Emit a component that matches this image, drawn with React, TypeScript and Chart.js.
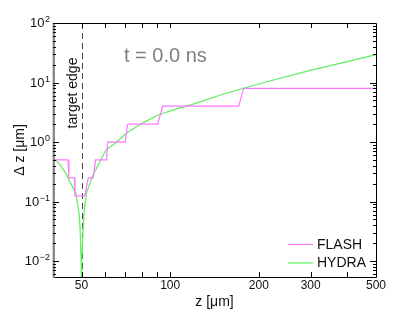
import React, { useEffect, useRef } from 'react';
import { Chart, registerables } from 'chart.js';

Chart.register(...registerables);

// ---- data ----
const FLASH_Z = [39.8, 40.2, 45.0, 45.3, 47.3, 47.5, 51.3, 52.7, 54.8, 55.8, 60.8, 61.3, 70.3, 71.7, 90.7, 94.3, 170.9, 177.7, 500];
const FLASH_DZ = [1, 0.5, 0.5, 0.25, 0.25, 0.125, 0.125, 0.25, 0.25, 0.5, 0.5, 1, 1, 2, 2, 4, 4, 8, 8];

const HYDRA_Z = [40, 42, 44.2, 46, 47.8, 49, 49.4, 49.85, 50, 50.15, 50.67, 51.2, 52, 54.5, 56, 60.6, 65.5, 71, 80.7, 92, 105, 119, 150, 177, 236, 306, 400, 500];
const HYDRA_DZ = [0.54, 0.43, 0.3, 0.2, 0.14, 0.065, 0.039, 0.01, 0.001, 0.01, 0.039, 0.08, 0.14, 0.27, 0.35, 0.74, 0.98, 1.4, 2.1, 2.9, 3.6, 4.3, 6.3, 8.0, 11.8, 16.5, 22.5, 29.5];

const X_MIN = 40;
const X_MAX = 500;
const Y_MIN = 0.0054;
const Y_MAX = 100;

const X_TICK_LABELS = [50, 100, 200, 300, 500];
const X_TICKS = [50, 60, 70, 80, 90, 100, 200, 300, 400];
const Y_DECADES = [-2, -1, 0, 1, 2];
const Y_MINOR_MULTS = [2, 3, 4, 5, 6, 7, 8, 9];

const TARGET_EDGE_Z = 50;
const TARGET_EDGE_LABEL = 'target edge';
const TIME_LABEL = 't = 0.0 ns';
const X_TITLE = 'z [\u03bcm]';
const Y_TITLE = '\u0394 z [\u03bcm]';
const SERIES_NAMES = ['FLASH', 'HYDRA'];
const SERIES_COLORS = ['#ff77ff', '#5cee5c'];

const FONT = '"Liberation Sans", Arial, Helvetica, sans-serif';

const decorPlugin = {
  id: 'decor',
  beforeDatasetsDraw(chart: any) {
    const { ctx, chartArea, scales } = chart;
    const x = Math.round(scales.x.getPixelForValue(TARGET_EDGE_Z)) + 0.5;
    ctx.save();
    ctx.strokeStyle = '#444';
    ctx.lineWidth = 1;
    ctx.setLineDash([6, 4]);
    ctx.beginPath();
    ctx.moveTo(x, chartArea.top);
    ctx.lineTo(x, chartArea.bottom);
    ctx.stroke();
    ctx.restore();
  },
  afterDraw(chart: any) {
    const { ctx, chartArea: a, scales } = chart;
    const xs = scales.x;
    const ys = scales.y;
    ctx.save();
    // borders
    ctx.lineWidth = 1;
    ctx.strokeStyle = '#000';
    ctx.beginPath();
    ctx.moveTo(a.left, a.top + 0.5);
    ctx.lineTo(a.right + 0.5, a.top + 0.5);
    ctx.lineTo(a.right + 0.5, a.bottom + 0.5);
    ctx.lineTo(a.left, a.bottom + 0.5);
    ctx.stroke();
    ctx.strokeStyle = '#8a8a8a';
    ctx.lineWidth = 2.4;
    ctx.beginPath();
    ctx.moveTo(a.left + 0.8, a.top);
    ctx.lineTo(a.left + 0.8, a.bottom + 1);
    ctx.stroke();

    // x ticks (bottom and top, inward)
    ctx.strokeStyle = '#000';
    ctx.lineWidth = 1;
    ctx.beginPath();
    for (const v of X_TICKS) {
      const px = Math.round(xs.getPixelForValue(v)) + 0.5;
      ctx.moveTo(px, a.bottom);
      ctx.lineTo(px, a.bottom - 5);
      ctx.moveTo(px, a.top);
      ctx.lineTo(px, a.top + 5);
    }
    // y ticks (left and right)
    for (const k of Y_DECADES) {
      const base = Math.pow(10, k);
      const py = Math.round(ys.getPixelForValue(base)) + 0.5;
      if (base >= Y_MIN && base <= Y_MAX) {
        ctx.moveTo(a.left, py);
        ctx.lineTo(a.left + 6, py);
        ctx.moveTo(a.right, py);
        ctx.lineTo(a.right - 6, py);
      }
    }
    for (let k = -3; k <= 2; k++) {
      for (const m of Y_MINOR_MULTS) {
        const v = m * Math.pow(10, k);
        if (v < Y_MIN || v > Y_MAX) continue;
        const py = Math.round(ys.getPixelForValue(v)) + 0.5;
        ctx.moveTo(a.left, py);
        ctx.lineTo(a.left + 3, py);
        ctx.moveTo(a.right, py);
        ctx.lineTo(a.right - 3, py);
      }
    }
    ctx.stroke();

    // x tick labels
    ctx.fillStyle = '#111';
    ctx.font = `12px ${FONT}`;
    ctx.textAlign = 'center';
    ctx.textBaseline = 'middle';
    for (const v of X_TICK_LABELS) {
      ctx.fillText(String(v), xs.getPixelForValue(v), a.bottom + 9);
    }
    // y tick labels 10^k
    for (const k of Y_DECADES) {
      const py = ys.getPixelForValue(Math.pow(10, k));
      const expStr = k < 0 ? '\u2212' + Math.abs(k) : String(k);
      ctx.font = `9px ${FONT}`;
      ctx.textAlign = 'right';
      ctx.textBaseline = 'alphabetic';
      const ew = ctx.measureText(expStr).width;
      ctx.fillText(expStr, a.left - 3, py - 1);
      ctx.font = `13px ${FONT}`;
      ctx.textBaseline = 'middle';
      ctx.fillText('10', a.left - 3 - ew - 0.5, py + 0.5);
    }

    // axis titles
    ctx.font = `14px ${FONT}`;
    ctx.textAlign = 'center';
    ctx.textBaseline = 'middle';
    ctx.fillText(X_TITLE, (a.left + a.right) / 2, a.bottom + 25);
    ctx.save();
    ctx.translate(20, (a.top + a.bottom) / 2);
    ctx.rotate(-Math.PI / 2);
    ctx.fillText(Y_TITLE, 0, 0);
    ctx.restore();

    // time annotation
    ctx.font = `20px ${FONT}`;
    ctx.fillStyle = '#808080';
    ctx.textAlign = 'left';
    ctx.textBaseline = 'alphabetic';
    ctx.fillText(TIME_LABEL, 124, 62);

    // target edge label
    ctx.fillStyle = '#111';
    ctx.font = `14px ${FONT}`;
    ctx.save();
    ctx.translate(xs.getPixelForValue(TARGET_EDGE_Z) - 4.5, 93);
    ctx.rotate(-Math.PI / 2);
    ctx.textAlign = 'center';
    ctx.fillText(TARGET_EDGE_LABEL, 0, 0);
    ctx.restore();

    // legend
    const legendY = [244.5, 263];
    SERIES_NAMES.forEach((name, i) => {
      ctx.strokeStyle = SERIES_COLORS[i];
      ctx.lineWidth = 1.2;
      ctx.beginPath();
      ctx.moveTo(288, legendY[i]);
      ctx.lineTo(313, legendY[i]);
      ctx.stroke();
      ctx.fillStyle = '#111';
      ctx.font = `14px ${FONT}`;
      ctx.textAlign = 'left';
      ctx.textBaseline = 'middle';
      ctx.fillText(name, 317, legendY[i] + 0.5);
    });
    ctx.restore();
  },
};

export default function App() {
  const ref = useRef<HTMLCanvasElement | null>(null);
  useEffect(() => {
    if (!ref.current) return;
    const chart = new Chart(ref.current, {
      type: 'line',
      data: {
        datasets: [
          {
            label: SERIES_NAMES[0],
            data: FLASH_Z.map((z, i) => ({ x: z, y: FLASH_DZ[i] })),
            borderColor: SERIES_COLORS[0],
            borderWidth: 1.2,
            pointRadius: 0,
            tension: 0,
          },
          {
            label: SERIES_NAMES[1],
            data: HYDRA_Z.map((z, i) => ({ x: z, y: HYDRA_DZ[i] })),
            borderColor: SERIES_COLORS[1],
            borderWidth: 1.2,
            pointRadius: 0,
            tension: 0,
          },
        ],
      },
      options: {
        responsive: false,
        maintainAspectRatio: false,
        devicePixelRatio: 1,
        animation: false,
        layout: { padding: { left: 53, top: 23, right: 39, bottom: 35 } },
        scales: {
          x: { type: 'logarithmic', min: X_MIN, max: X_MAX, display: false },
          y: { type: 'logarithmic', min: Y_MIN, max: Y_MAX, display: false },
        },
        plugins: { legend: { display: false }, tooltip: { enabled: false } },
      },
      plugins: [decorPlugin],
    } as any);
    return () => chart.destroy();
  }, []);
  return (
    <div style={{ position: 'fixed', left: 0, top: 0, width: 415, height: 312, background: '#fff' }}>
      <canvas ref={ref} width={415} height={312} style={{ display: 'block' }} />
    </div>
  );
}
